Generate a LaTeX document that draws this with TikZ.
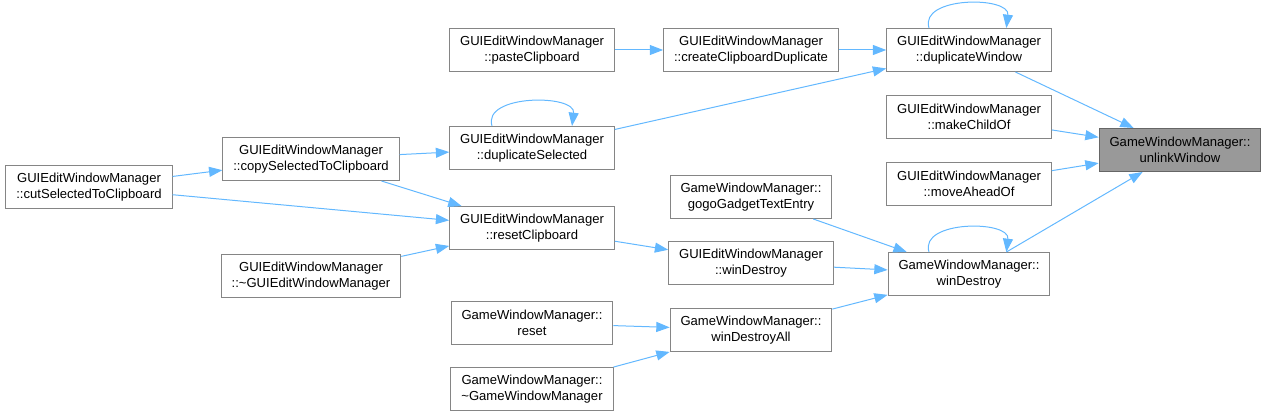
\documentclass[tikz,border=0pt]{standalone}
\usepackage{fontspec}
\setmainfont{Liberation Sans}
\usetikzlibrary{arrows.meta,positioning}
\definecolor{edgeblue}{HTML}{63B8FF}
\definecolor{boxline}{HTML}{858585}
\definecolor{rootline}{HTML}{666666}
\definecolor{rootfill}{HTML}{999999}

\begin{document}
\begin{tikzpicture}[
  x=0.75pt, y=-0.75pt,
  font=\fontsize{9.8}{12}\selectfont,
  fn/.style={draw=boxline, fill=white, line width=0.75pt, align=center, minimum height=32.25pt, inner xsep=7.8pt, inner ysep=2pt},
  root/.style={fn, draw=rootline, fill=rootfill},
  edge/.style={-{Triangle[length=10pt,width=7.5pt]}, draw=edgeblue, line width=0.75pt},
  selfcall/.style={edge}
]
\useasboundingbox (0,0) rectangle (1267,416);

\node[root] (unlink) at (1180,150) {GameWindowManager::\\unlinkWindow};
\node[fn] (dupwin) at (969,50) {GUIEditWindowManager\\::duplicateWindow};
\node[fn] (childof) at (969,117) {GUIEditWindowManager\\::makeChildOf};
\node[fn] (aheadof) at (969,184) {GUIEditWindowManager\\::moveAheadOf};
\node[fn] (gwmdestroy) at (969,274) {GameWindowManager::\\winDestroy};
\node[fn] (clipdup) at (751,50) {GUIEditWindowManager\\::createClipboardDuplicate};
\node[fn] (paste) at (532,50) {GUIEditWindowManager\\::pasteClipboard};
\node[fn] (dupsel) at (532,148) {GUIEditWindowManager\\::duplicateSelected};
\node[fn] (copysel) at (311,159) {GUIEditWindowManager\\::copySelectedToClipboard};
\node[fn] (cutsel) at (89,187) {GUIEditWindowManager\\::cutSelectedToClipboard};
\node[fn] (resetclip) at (532,228) {GUIEditWindowManager\\::resetClipboard};
\node[fn] (guidtor) at (311,276) {GUIEditWindowManager\\::\textasciitilde GUIEditWindowManager};
\node[fn] (gogo) at (751,197) {GameWindowManager::\\gogoGadgetTextEntry};
\node[fn] (guidestroy) at (751,263) {GUIEditWindowManager\\::winDestroy};
\node[fn] (destroyall) at (751,330) {GameWindowManager::\\winDestroyAll};
\node[fn] (gwmreset) at (532,323) {GameWindowManager::\\reset};
\node[fn] (gwmdtor) at (532,389) {GameWindowManager::\\\textasciitilde GameWindowManager};

% callers of unlinkWindow
\draw[edge] (dupwin) -- (unlink);
\draw[edge] (childof) -- (unlink);
\draw[edge] (aheadof) -- (unlink);
\draw[edge] (gwmdestroy) -- (unlink);

% duplicate branch
\draw[edge] (clipdup) -- (dupwin);
\draw[edge] (dupsel) -- (dupwin);
\draw[edge] (paste) -- (clipdup);
\draw[edge] (copysel) -- (dupsel);
\draw[edge] (cutsel) -- (copysel);

% clipboard reset branch
\draw[edge] (cutsel) -- (resetclip);
\draw[edge] (copysel) -- (resetclip);
\draw[edge] (guidtor) -- (resetclip);
\draw[edge] (resetclip) -- (guidestroy);

% winDestroy branch
\draw[edge] (gogo) -- (gwmdestroy);
\draw[edge] (guidestroy) -- (gwmdestroy);
\draw[edge] (destroyall) -- (gwmdestroy);
\draw[edge] (gwmreset) -- (destroyall);
\draw[edge] (gwmdtor) -- (destroyall);

% recursive calls
\draw[selfcall] ([xshift=-30pt]dupwin.north) .. controls +(-10,-32) and +(4,-32) .. ([xshift=28pt]dupwin.north);
\draw[selfcall] ([xshift=-30pt]dupsel.north) .. controls +(-10,-32) and +(4,-32) .. ([xshift=30pt]dupsel.north);
\draw[selfcall] ([xshift=-30pt]gwmdestroy.north) .. controls +(-10,-32) and +(4,-32) .. ([xshift=28pt]gwmdestroy.north);
\end{tikzpicture}
\end{document}
